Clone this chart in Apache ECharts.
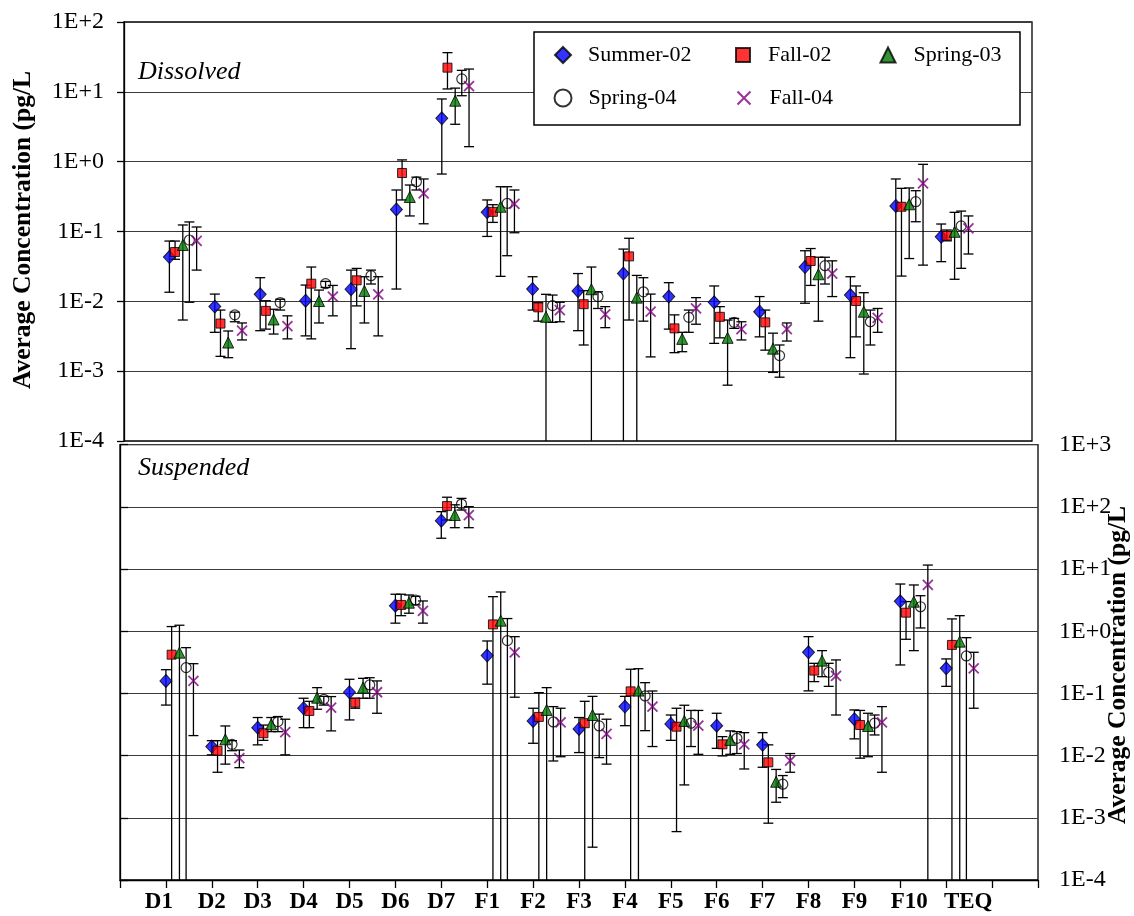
<!DOCTYPE html>
<html>
<head>
<meta charset="utf-8">
<script src="https://cdn.jsdelivr.net/npm/echarts@6/dist/echarts.min.js"></script>
<style>html,body{margin:0;padding:0;background:#fff}#c{width:1134px;height:916px}</style>
</head>
<body>
<div id="c"></div>
<script>
const categories = ['D1','D2','D3','D4','D5','D6','D7','F1','F2','F3','F4','F5','F6','F7','F8','F9','F10','TEQ'];
const seriesNames = ['Summer-02','Fall-02','Spring-03','Spring-04','Fall-04'];
const BELOW = 1e-5; // lower error limit falls below the plotted range

// each entry: [mean, lower limit, upper limit]
const dissolvedSummer02 = [[0.043,0.0135,0.073],[0.0084,0.0036,0.0127],[0.0126,0.0038,0.0218],[0.0102,0.0032,0.0171],[0.0149,0.0021,0.028],[0.207,0.015,0.393],[4.18,0.665,7.9],[0.188,0.085,0.283],[0.015,0.0075,0.0225],[0.0141,0.0038,0.025],[0.025,BELOW,0.056],[0.0117,0.004,0.0185],[0.0097,0.0025,0.0166],[0.0071,0.0031,0.0117],[0.031,0.0094,0.053],[0.0123,0.00156,0.0225],[0.232,BELOW,0.565],[0.084,0.037,0.128]];
const dissolvedFall02 = [[0.0508,0.040,0.073],[0.0048,0.00163,0.0075],[0.0073,0.0040,0.0102],[0.0179,0.0029,0.031],[0.020,0.0086,0.0296],[0.688,0.283,1.06],[22.2,11.0,36.4],[0.191,0.135,0.242],[0.0082,0.0052,0.0096],[0.0091,0.00237,0.0142],[0.044,0.0054,0.08],[0.0041,0.00184,0.0064],[0.006,0.003,0.0084],[0.005,0.002,0.0075],[0.0378,0.0169,0.057],[0.0101,0.0031,0.0166],[0.226,0.023,0.415],[0.087,0.0735,0.105]];
const dissolvedSpring03 = [[0.064,0.0054,0.124],[0.00257,0.00156,0.00376],[0.0055,0.0034,0.0077],[0.0101,0.0049,0.0145],[0.0141,0.0049,0.0225],[0.312,0.167,0.463],[7.46,3.43,11.3],[0.226,0.0228,0.438],[0.006,BELOW,0.0126],[0.0149,BELOW,0.031],[0.0113,BELOW,0.0235],[0.0029,0.0019,0.0036],[0.003,0.00063,0.0054],[0.0021,0.00096,0.0035],[0.0244,0.0052,0.0428],[0.0071,0.00091,0.0133],[0.245,0.041,0.42],[0.099,0.0207,0.188]];
const dissolvedSpring04 = [[0.0755,0.0097,0.137],[0.0064,0.0051,0.0070],[0.0096,0.0075,0.0107],[0.0179,0.0158,0.0193],[0.0233,0.0177,0.028],[0.516,0.393,0.6],[15.3,8.8,20.3],[0.253,0.045,0.438],[0.0087,0.005,0.0123],[0.0117,0.0079,0.0137],[0.0137,0.0052,0.0218],[0.0059,0.0036,0.0075],[0.005,0.0041,0.0057],[0.00167,0.00082,0.00237],[0.0324,0.0177,0.0428],[0.0051,0.00237,0.0075],[0.267,0.138,0.384],[0.12,0.0297,0.196]];
const dissolvedFall04 = [[0.0735,0.028,0.116],[0.0038,0.0028,0.0049],[0.0044,0.0029,0.0062],[0.0117,0.0062,0.0169],[0.0126,0.0032,0.0225],[0.352,0.129,0.565],[12.1,1.64,21.2],[0.248,0.096,0.393],[0.0075,0.0051,0.0097],[0.0065,0.0042,0.0084],[0.0071,0.0016,0.0127],[0.0079,0.0047,0.0113],[0.004,0.0028,0.0051],[0.004,0.0027,0.0049],[0.025,0.0117,0.038],[0.0058,0.0036,0.0079],[0.49,0.033,0.916],[0.111,0.0476,0.167]];

const suspendedSummer02 = [[0.159,0.065,0.241],[0.014,0.0103,0.0174],[0.0282,0.0149,0.041],[0.0578,0.0282,0.0837],[0.1045,0.0375,0.169],[2.58,1.35,3.94],[60,31.3,83.8],[0.406,0.141,0.698],[0.0361,0.0158,0.0578],[0.0269,0.0112,0.041],[0.0614,0.0303,0.0897],[0.0324,0.0176,0.045],[0.0303,0.0131,0.048],[0.0149,0.0065,0.0234],[0.459,0.11,0.819],[0.0385,0.0186,0.0543],[3.03,0.287,5.75],[0.254,0.13,0.359]];
const suspendedFall02 = [[0.42,BELOW,1.19],[0.012,0.0054,0.0174],[0.0229,0.0176,0.031],[0.0523,0.0282,0.0747],[0.0711,0.0578,0.0837],[2.65,1.78,3.94],[103,61.5,143],[1.29,BELOW,3.6],[0.0419,BELOW,0.103],[0.0332,BELOW,0.0747],[0.108,BELOW,0.245],[0.0292,0.0006,0.0578],[0.0152,0.0099,0.0202],[0.0078,0.00082,0.0149],[0.233,0.155,0.305],[0.0311,0.0091,0.0533],[1.99,0.743,3.0],[0.603,BELOW,1.58]];
const suspendedSpring03 = [[0.453,BELOW,1.25],[0.0183,0.0073,0.030],[0.0319,0.0243,0.041],[0.0855,0.0557,0.124],[0.124,0.0837,0.175],[2.88,1.95,3.83],[74,46.3,108],[1.48,BELOW,4.28],[0.0543,BELOW,0.124],[0.045,0.000337,0.0897],[0.111,BELOW,0.25],[0.0361,0.00338,0.0646],[0.0179,0.0105,0.025],[0.0038,0.00178,0.006],[0.337,0.186,0.488],[0.030,0.0096,0.048],[2.99,0.488,5.55],[0.681,BELOW,1.78]];
const suspendedSpring04 = [[0.26,BELOW,0.545],[0.0152,0.012,0.0174],[0.0352,0.0243,0.0425],[0.0805,0.065,0.0897],[0.137,0.0837,0.179],[3.18,2.65,3.65],[111,89,137],[0.706,BELOW,1.6],[0.0348,0.0082,0.0614],[0.030,0.0093,0.0465],[0.0912,0.0252,0.149],[0.0332,0.014,0.0533],[0.019,0.0108,0.0243],[0.00347,0.00211,0.00478],[0.219,0.13,0.305],[0.0332,0.0215,0.045],[2.48,1.13,3.73],[0.401,BELOW,0.789]];
const suspendedFall04 = [[0.159,0.021,0.301],[0.0091,0.0064,0.0123],[0.0238,0.0103,0.0385],[0.0592,0.025,0.089],[0.1045,0.048,0.159],[2.12,1.35,3.07],[74,46.3,101],[0.459,0.087,0.819],[0.0343,0.0096,0.0578],[0.0223,0.0073,0.0385],[0.0614,0.014,0.1095],[0.0303,0.0105,0.0533],[0.0152,0.0061,0.0234],[0.0083,0.0054,0.0108],[0.191,0.045,0.346],[0.0343,0.0054,0.0614],[5.55,BELOW,11.6],[0.254,0.0578,0.459]];

const dissolvedSets = [dissolvedSummer02, dissolvedFall02, dissolvedSpring03, dissolvedSpring04, dissolvedFall04];
const suspendedSets = [suspendedSummer02, suspendedFall02, suspendedSpring03, suspendedSpring04, suspendedFall04];

const offsets = [0, 0.125, 0.295, 0.44, 0.6];
const SERIF = "'Liberation Serif', 'Times New Roman', serif";
const XPATH = 'path://M0,0L10,10M0,10L10,0';
const styles = [
  {symbol:'diamond', size:[12,13], itemStyle:{color:'#0000FF', borderColor:'#000', borderWidth:1}},
  {symbol:'rect', size:9, itemStyle:{color:'#FF0000', borderColor:'#000', borderWidth:1}},
  {symbol:'triangle', size:[11,11], itemStyle:{color:'#007A00', borderColor:'#000', borderWidth:1}},
  {symbol:'circle', size:10, itemStyle:{color:'rgba(255,255,255,0)', borderColor:'#000', borderWidth:1.2}},
  {symbol:XPATH, size:10, itemStyle:{color:'#800080', borderColor:'#800080', borderWidth:1.8}}
];

function expLabel(v){
  const e = Math.round(Math.log10(v));
  return '1E' + (e >= 0 ? '+' : '-') + Math.abs(e);
}

function errRender(params, api){
  const x = api.value(0);
  const hi = api.coord([x, api.value(3)]);
  const lo = api.coord([x, api.value(2)]);
  const clipped = api.value(4);
  const cw = 5;
  const st = {stroke:'#000', lineWidth:1.3};
  const ch = [
    {type:'line', shape:{x1:hi[0], y1:hi[1], x2:lo[0], y2:lo[1]}, style:st},
    {type:'line', shape:{x1:hi[0]-cw, y1:hi[1], x2:hi[0]+cw, y2:hi[1]}, style:st}
  ];
  if (!clipped) ch.push({type:'line', shape:{x1:lo[0]-cw, y1:lo[1], x2:lo[0]+cw, y2:lo[1]}, style:st});
  return {type:'group', children:ch};
}

const series = [];
[dissolvedSets, suspendedSets].forEach((sets, p) => {
  const axisMin = 1e-4;
  sets.forEach((arr, s) => {
    series.push({
      name: seriesNames[s] + (p ? ' (susp)' : ''),
      type:'scatter', xAxisIndex:p, yAxisIndex:p,
      symbol: styles[s].symbol, symbolSize: styles[s].size,
      itemStyle: styles[s].itemStyle, z:5,
      data: arr.map((d,i) => [i + 1 + offsets[s], d[0]])
    });
  });
  sets.forEach((arr, s) => {
    series.push({
      name: seriesNames[s] + ' err' + p,
      type:'custom', xAxisIndex:p, yAxisIndex:p, z:3,
      renderItem: errRender,
      encode:{x:0, y:1},
      data: arr.map((d,i) => [i + 1 + offsets[s], d[0], Math.max(d[1], axisMin), d[2], d[1] < axisMin ? 1 : 0])
    });
  });
});

// marker centre x, row centre y, icon size
const legendPos = [
  {cx:562, cy:56, h:16},
  {cx:742, cy:56, h:14},
  {cx:887, cy:56, h:15},
  {cx:562, cy:99, h:17},
  {cx:743, cy:99, h:13}
];
const legends = seriesNames.map((n, i) => {
  const lp = legendPos[i];
  return {
    data:[n], left:lp.cx - lp.h/2, top:lp.cy - 12, orient:'horizontal',
    itemWidth:lp.h, itemHeight:lp.h, padding:0, z:20, selectedMode:false,
    formatter: name => '{t|' + name + '}',
    textStyle:{fontFamily:SERIF, fontSize:22, color:'#000',
      rich:{t:{fontFamily:SERIF, fontSize:22, color:'#000', padding:[0,0,0, Math.round(20 - lp.h/2)]}}}
  };
});

const axisLabelStyle = {fontFamily:SERIF, fontSize:24, color:'#000'};

const option = {
  backgroundColor:'#fff',
  animation:false,
  grid:[
    {left:124, top:22, width:908, height:419, show:true, borderColor:'#000', borderWidth:1.3, backgroundColor:'rgba(0,0,0,0)'},
    {left:120, top:444.7, width:918, height:435.3, show:true, borderColor:'#000', borderWidth:1.3, backgroundColor:'rgba(0,0,0,0)'}
  ],
  legend: legends,
  xAxis:[
    {gridIndex:0, type:'value', min:0, max:20, interval:1, axisLine:{show:false}, axisTick:{show:false}, axisLabel:{show:false}, splitLine:{show:false}},
    {gridIndex:1, type:'value', min:0, max:20, interval:1,
     axisLine:{show:true, lineStyle:{color:'#000', width:1.3}},
     axisTick:{show:true, inside:false, length:8, lineStyle:{color:'#000', width:1.3}},
     splitLine:{show:false},
     axisLabel:{show:true, margin:11, showMinLabel:true, showMaxLabel:true,
       fontFamily:SERIF, fontSize:23, fontWeight:'bold', color:'#000',
       formatter: v => {
         const c = categories[Math.round(v) - 1];
         if (!c) return '';
         if (c === 'TEQ') return '{teq|TEQ}';
         if (c === 'F10') return '{f10|F10}';
         if (c === 'D1') return '{d1|D1}';
         return c;
       },
       rich:{
         teq:{fontFamily:SERIF, fontSize:23, fontWeight:'bold', color:'#000', padding:[0,0,0,44]},
         f10:{fontFamily:SERIF, fontSize:23, fontWeight:'bold', color:'#000', padding:[0,0,0,18]},
         d1:{fontFamily:SERIF, fontSize:23, fontWeight:'bold', color:'#000', padding:[0,14,0,0]}
       }
     }}
  ],
  yAxis:[
    {gridIndex:0, type:'log', logBase:10, min:1e-4, max:100, position:'left',
     axisLine:{show:true, lineStyle:{color:'#000', width:1.3}},
     axisTick:{show:true, inside:false, length:7, lineStyle:{color:'#000', width:1.3}},
     minorTick:{show:false},
     axisLabel:Object.assign({margin:20, formatter:expLabel}, axisLabelStyle),
     splitLine:{show:true, lineStyle:{color:'#3a3a3a', width:1}}},
    {gridIndex:1, type:'log', logBase:10, min:1e-4, max:1000, position:'right',
     axisLine:{show:true, lineStyle:{color:'#000', width:1.3}},
     axisTick:{show:true, inside:false, length:8, lineStyle:{color:'#000', width:1.3}},
     minorTick:{show:false},
     axisLabel:Object.assign({margin:21, formatter:expLabel}, axisLabelStyle),
     splitLine:{show:true, lineStyle:{color:'#3a3a3a', width:1}}}
  ],
  graphic:[
    {type:'rect', z:15, shape:{x:534, y:32, width:486, height:93}, style:{fill:'#fff', stroke:'#000', lineWidth:1.5}},
    {type:'text', z:15, x:138, y:72, style:{text:'Dissolved', font:'italic 26px ' + SERIF, fill:'#000', textAlign:'left', align:'left', textVerticalAlign:'middle', verticalAlign:'middle'}},
    {type:'text', z:15, x:138, y:468, style:{text:'Suspended', font:'italic 26px ' + SERIF, fill:'#000', textAlign:'left', align:'left', textVerticalAlign:'middle', verticalAlign:'middle'}},
    {type:'text', z:15, x:23, y:230, rotation:Math.PI/2, style:{text:'Average Concentration (pg/L', font:'bold 25.5px ' + SERIF, fill:'#000', textAlign:'center', align:'center', textVerticalAlign:'middle', verticalAlign:'middle'}},
    {type:'text', z:15, x:1118, y:665, rotation:Math.PI/2, style:{text:'Average Concentration (pg/L', font:'bold 25.5px ' + SERIF, fill:'#000', textAlign:'center', align:'center', textVerticalAlign:'middle', verticalAlign:'middle'}}
  ],
  series: series
};

const chart = echarts.init(document.getElementById('c'), null, {renderer:'canvas'});
chart.setOption(option);
</script>
</body>
</html>
